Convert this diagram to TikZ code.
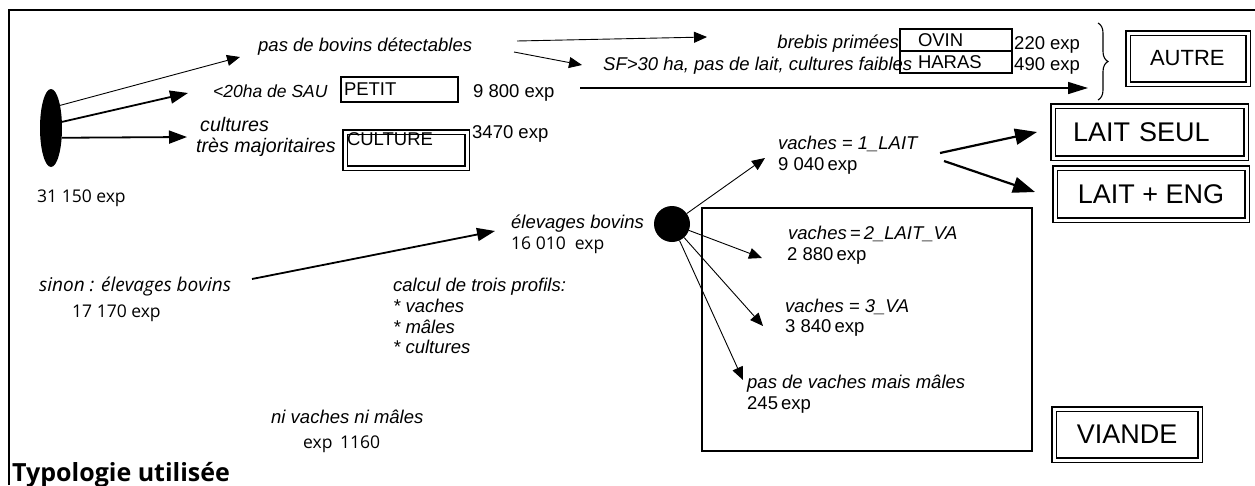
\documentclass[tikz,border=0pt]{standalone}
\usepackage{fontspec}
\setmainfont{Liberation Sans}
\newfontfamily\hum{Open Sans}
\usetikzlibrary{arrows.meta,decorations.pathreplacing,shapes.geometric}
\begin{document}
\begin{tikzpicture}[x=1pt,y=-1pt,
  it/.style={anchor=base west, inner sep=0pt, font=\fontsize{18.5}{22}\selectfont\itshape},
  rm/.style={anchor=base west, inner sep=0pt, font=\fontsize{18.5}{22}\selectfont},
  hm/.style={anchor=base west, inner sep=0pt, font=\fontsize{17.5}{20}\selectfont\hum},
  hmit/.style={anchor=base west, inner sep=0pt, font=\fontsize{19}{22}\selectfont\hum\itshape},
  dbox/.style={draw, double, double distance=3pt, line width=1.3pt, inner ysep=0pt, align=left},
  sbox/.style={draw, line width=1.2pt, inner ysep=0pt, font=\fontsize{18.5}{22}\selectfont, align=left},
  thinarrow/.style={-{Triangle[length=13pt,width=11pt]}, line width=0.9pt},
  midarrow/.style={-{Triangle[length=18pt,width=13pt]}, line width=1.8pt},
  bigarrow/.style={-{Triangle[length=22pt,width=16pt]}, line width=2.2pt},
]
\useasboundingbox (0,0) rectangle (1255,485);
% frame
\draw[line width=1.5pt] (9,485) -- (9,10) -- (1255,10);

% root ellipse
\node[ellipse, fill, minimum width=22pt, minimum height=78pt, inner sep=0pt] (ell) at (51,128) {};
\node[hm] (tot) at (37,202) {31 150 exp};

% first level texts
\node[it] (pdb) at (258,51) {pas de bovins détectables};
\node[it, font=\fontsize{17.5}{20}\selectfont\itshape] (sau) at (213,97) {<20ha de SAU};
\node[sbox, text width=111pt, inner xsep=3pt, minimum height=25pt] (petit) at (399.5,89.5) {PETIT};
\node[rm] (n9800) at (473,97) {9 800 exp};
\node[it, font=\fontsize{19.6}{22}\selectfont\itshape] (cult1) at (200,131) {cultures};
\node[it, font=\fontsize{19.6}{22}\selectfont\itshape] (cult2) at (196,152) {très majoritaires};
\node[dbox, minimum width=122pt, minimum height=36pt, text width=118pt, inner xsep=2pt, font=\fontsize{18.5}{22}\selectfont] (culture) at (406,150) {CULTURE\\[-6pt]\strut};
\node[rm] (n3470) at (472,138) {3470 exp};

\coordinate (t1) at (240,57);
\coordinate (t2) at (188,93);
\coordinate (t3) at (187,137);
\draw[thinarrow] (ell.68) -- (t1);
\draw[midarrow] (ell.29) -- (t2);
\draw[midarrow] (ell.318) -- (t3);

% top right
\node[it, anchor=base east] (brebis) at (899,48) {brebis primées};
\node[it] (sf) at (603,70) {SF>30 ha, pas de lait, cultures faibles};
\node[sbox, text width=76pt, inner xsep=18pt, minimum height=22pt] (ovin) at (956,40) {OVIN};
\node[sbox, text width=76pt, inner xsep=18pt, minimum height=22pt] (haras) at (956,62) {HARAS};
\node[rm] (n220) at (1014,49) {220 exp};
\node[rm] (n490) at (1014,70) {490 exp};

\coordinate (pdbr) at (517,41);
\coordinate (pdbr2) at (514,52);
\coordinate (tb) at (707,37);
\coordinate (tsf) at (582,65);
\draw[thinarrow] (pdbr) -- (tb);
\draw[thinarrow] (pdbr2) -- (tsf);

\coordinate (br1) at (1098,23);
\coordinate (br2) at (1098,100);
\draw[decorate, decoration={brace, amplitude=10pt}, line width=1.1pt] (br1) -- (br2);
\node[dbox, minimum width=120pt, minimum height=51pt, text width=76pt, inner xsep=22pt, font=\fontsize{22}{26}\selectfont] (autre) at (1188,58.5) {AUTRE};

\coordinate (s9800) at (580,88);
\coordinate (t9800) at (1088,88);
\draw[-{Triangle[length=20pt,width=12pt]}, line width=1.5pt] (s9800) -- (t9800);

% result boxes
\node[dbox, minimum width=193pt, minimum height=52pt, text width=153pt, inner xsep=20pt, font=\fontsize{27}{31}\selectfont] (lseul) at (1149.5,132) {LAIT SEUL};
\node[dbox, minimum width=192pt, minimum height=52pt, align=center, font=\fontsize{27}{31}\selectfont] (leng) at (1151,194) {LAIT + ENG};
\node[dbox, minimum width=146pt, minimum height=51pt, align=center, font=\fontsize{27}{31}\selectfont] (viande) at (1127,434.5) {VIANDE};

% bovins
\node[hmit] (sinon) at (39,291) {sinon : élevages bovins};
\node[hm] (n17170) at (72,317) {17 170 exp};
\node[it] (elev) at (511,228) {élevages bovins};
\node[hm] (n16010) at (511,249) {16 010 \ exp};
\coordinate (ssinon) at (252,279);
\coordinate (telev) at (495,231);
\draw[midarrow] (ssinon) -- (telev);

\node[it] (calc) at (393,291) {calcul de trois profils:};
\node[it] (cv) at (393,312) {* vaches};
\node[it] (cm) at (393,333) {* mâles};
\node[it] (cc) at (393,353) {* cultures};

\node[it] (nivm) at (271,423) {ni vaches ni mâles};
\node[hm] (n1160) at (303,448) {exp\, 1160};

\node[circle, fill, minimum size=36pt, inner sep=0pt] (circ) at (672,224) {};

\draw[line width=1.2pt] (702,208) rectangle (1032,451);

\node[it] (v1) at (778,149) {vaches = 1\_LAIT};
\node[rm] (n9040) at (778,170) {9 040\,exp};
\node[it] (v2) at (788,239) {vaches\,=\,2\_LAIT\_VA};
\node[rm] (n2880) at (787,260) {2 880\,exp};
\node[it] (v3) at (785,312) {vaches = 3\_VA};
\node[rm] (n3840) at (785,332) {3 840\,exp};
\node[it] (v4) at (747,388) {pas de vaches mais mâles};
\node[rm] (n245) at (747,409) {245\,exp};

\coordinate (tv1) at (765,158);
\coordinate (tv2) at (762,258);
\coordinate (tv3) at (763,326);
\coordinate (tv4) at (743,380);
\draw[thinarrow] (circ) -- (tv1);
\draw[thinarrow] (circ) -- (tv2);
\draw[thinarrow] (circ) -- (tv3);
\draw[thinarrow] (circ) -- (tv4);

\coordinate (sl1) at (940,153);
\coordinate (sl2) at (944,161);
\coordinate (tl1) at (1037,132);
\coordinate (tl2) at (1035,192);
\draw[bigarrow] (sl1) -- (tl1);
\draw[bigarrow] (sl2) -- (tl2);

% title
\node[anchor=base west, inner sep=0pt, font=\fontsize{25}{28}\selectfont\hum\bfseries] (title) at (12,481) {Typologie utilisée};
\end{tikzpicture}
\end{document}
